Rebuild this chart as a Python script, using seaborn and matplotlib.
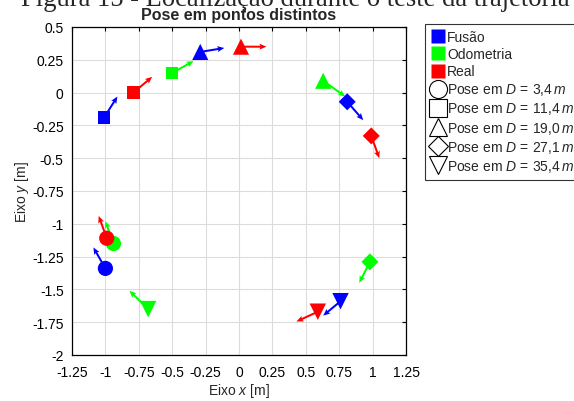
import matplotlib
matplotlib.use('Agg')
import matplotlib.pyplot as plt
from matplotlib.lines import Line2D
import seaborn as sns
import numpy as np
import pandas as pd

# Pose order: circle, square, triangle, diamond, inverted triangle
pose_labels = ['3,4', '11,4', '19,0', '27,1', '35,4']
pose_markers = ['o', 's', '^', 'D', 'v']
pose_sizes = [120, 80, 135, 75, 140]
sources = ['Fusão', 'Odometria', 'Real']
palette = {'Fusão': (0, 0, 1), 'Odometria': (0, 1, 0), 'Real': (1, 0, 0)}

# x, y position and heading vector (u, v) per source, one value per pose
fusao_x = [-1.00, -1.01, -0.29, 0.81, 0.76]
fusao_y = [-1.34, -0.19, 0.31, -0.07, -1.59]
fusao_u = [-0.09, 0.10, 0.18, 0.12, -0.13]
fusao_v = [0.16, 0.16, 0.03, -0.14, -0.11]

odom_x = [-0.94, -0.50, 0.63, 0.98, -0.68]
odom_y = [-1.15, 0.15, 0.09, -1.29, -1.65]
odom_u = [-0.06, 0.16, 0.165, -0.08, -0.14]
odom_v = [0.17, 0.09, -0.12, -0.16, 0.14]

real_x = [-0.99, -0.79, 0.015, 0.99, 0.59]
real_y = [-1.11, 0.00, 0.35, -0.33, -1.67]
real_u = [-0.06, 0.14, 0.19, 0.06, -0.16]
real_v = [0.17, 0.12, 0.00, -0.17, -0.075]

rows = []
for src, xs, ys, us, vs in [('Fusão', fusao_x, fusao_y, fusao_u, fusao_v),
                            ('Odometria', odom_x, odom_y, odom_u, odom_v),
                            ('Real', real_x, real_y, real_u, real_v)]:
    for i in range(5):
        rows.append({'fonte': src, 'pose': i, 'x': xs[i], 'y': ys[i],
                     'u': us[i], 'v': vs[i]})
df = pd.DataFrame(rows)

sns.set_style('white')
plt.rcParams['font.family'] = ['Liberation Sans', 'DejaVu Sans']
plt.rcParams['mathtext.fontset'] = 'custom'
plt.rcParams['mathtext.rm'] = 'Liberation Sans'
plt.rcParams['mathtext.it'] = 'Liberation Sans:italic'

fig = plt.figure(figsize=(5.74, 4.02), dpi=100)
ax = fig.add_axes([72 / 574, 1 - 356 / 402, 334 / 574, 328 / 402])

# heading arrows
for src in sources:
    d = df[df['fonte'] == src]
    ax.quiver(d['x'], d['y'], d['u'], d['v'], color=palette[src],
              angles='xy', scale_units='xy', scale=1, width=0.006,
              headwidth=3, headlength=3.5, headaxislength=3, zorder=2)

# pose markers
for i in range(5):
    d = df[df['pose'] == i]
    sns.scatterplot(data=d, x='x', y='y', hue='fonte', palette=palette,
                    marker=pose_markers[i], s=pose_sizes[i],
                    edgecolor='none', legend=False, ax=ax, zorder=3)

ax.set_xlim(-1.25, 1.25)
ax.set_ylim(-2, 0.5)
ax.set_xticks(np.arange(-1.25, 1.26, 0.25))
ax.set_xticklabels(['-1.25', '-1', '-0.75', '-0.5', '-0.25', '0', '0.25',
                    '0.5', '0.75', '1', '1.25'])
ax.set_yticks(np.arange(-2, 0.51, 0.25))
ax.set_yticklabels(['-2', '-1.75', '-1.5', '-1.25', '-1', '-0.75', '-0.5',
                    '-0.25', '0', '0.25', '0.5'])
ax.tick_params(direction='in', top=True, right=True, length=3,
               labelsize=10, colors='black')
ax.tick_params(axis='x', pad=7)
ax.tick_params(axis='y', pad=6)
ax.grid(True, color='#dcdcdc', linewidth=0.8)
ax.set_axisbelow(True)
for sp in ax.spines.values():
    sp.set_color('black')
    sp.set_linewidth(0.9)

ax.set_xlabel('Eixo $x$ [m]', fontsize=10, labelpad=2)
ax.set_ylabel('Eixo $y$ [m]', fontsize=10, labelpad=1)
ax.set_title('Pose em pontos distintos', fontsize=11.5, fontweight='bold',
             pad=6)

# legend
handles = [Line2D([], [], marker='s', linestyle='none', markersize=10,
                  color=palette[s], markeredgecolor='none') for s in sources]
labels = list(sources)
for m, p in zip(pose_markers, pose_labels):
    ms = 10 if m == 'D' else 13
    handles.append(Line2D([], [], marker=m, linestyle='none', markersize=ms,
                          markerfacecolor='none', markeredgecolor='black',
                          markeredgewidth=0.8))
    labels.append('Pose em $\\mathit{D\\,=\\,' + p.replace(',', '{,}')
                  + '\\,m}$')
leg = fig.legend(handles, labels, loc='upper left',
                 bbox_to_anchor=(425 / 574, 1 - 25 / 402),
                 fontsize=10, frameon=True, fancybox=False,
                 handlelength=0.9, handletextpad=0.25, labelspacing=0.22,
                 borderpad=0.45, borderaxespad=0)
leg.get_frame().set_edgecolor('black')
leg.get_frame().set_linewidth(0.8)

# cropped caption at the top of the page
fig.text(21 / 574, 1 - 6 / 402,
         'Figura 15 - Localização durante o teste da trajetória',
         fontsize=19.2, family='Liberation Serif', va='baseline')

fig.savefig('out.png', dpi=100)
